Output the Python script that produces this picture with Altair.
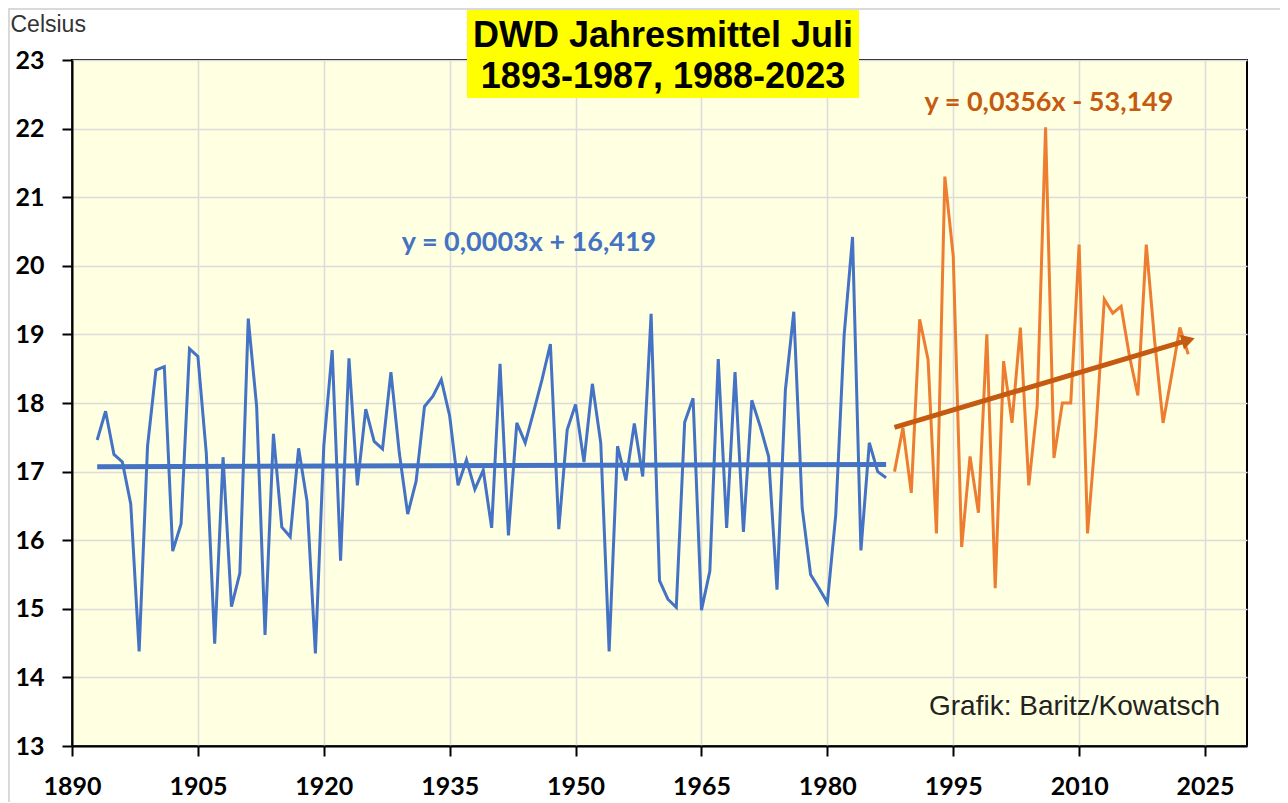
import math
import altair as alt
import numpy as np
import pandas as pd

# ---------------- data ----------------
years_a = list(range(1893, 1988))
temps_a = [
    17.46, 17.88, 17.25, 17.14, 16.53, 14.38, 17.37, 18.48, 18.53, 15.84,
    16.24, 18.79, 18.68, 17.27, 14.49, 17.21, 15.03, 15.52, 19.23, 17.95,
    14.62, 17.55, 16.19, 16.05, 17.34, 16.57, 14.35, 17.37, 18.77, 15.70,
    18.65, 16.80, 17.91, 17.44, 17.33, 18.45, 17.27, 16.38, 16.86, 17.95,
    18.10, 18.34, 17.81, 16.80, 17.17, 16.74, 17.02, 16.18, 18.57, 16.07,
    17.71, 17.42, 17.87, 18.34, 18.86, 16.16, 17.61, 17.98, 17.14, 18.28,
    17.42, 14.38, 17.37, 16.87, 17.70, 16.93, 19.30, 15.41, 15.14, 15.02,
    17.72, 18.07, 14.98, 15.55, 18.64, 16.18, 18.45, 16.12, 18.04, 17.66,
    17.22, 15.28, 18.19, 19.33, 16.47, 15.50, 15.30, 15.09, 16.37, 18.99,
    20.42, 15.85, 17.42, 17.00, 16.91,
]
years_b = list(range(1988, 2024))
temps_b = [
    17.00, 17.64, 16.69, 19.22, 18.63, 16.10, 21.30, 20.14, 15.90, 17.22,
    16.40, 19.00, 15.30, 18.61, 17.71, 19.10, 16.80, 17.95, 22.02, 17.20,
    18.00, 18.00, 20.31, 16.10, 17.60, 19.51, 19.31, 19.41, 18.68, 18.11,
    20.31, 18.90, 17.71, 18.39, 19.10, 18.71,
]

x_ticks = [1890, 1905, 1920, 1935, 1950, 1965, 1980, 1995, 2010, 2025]
y_ticks = list(range(13, 24))

title_lines = ["DWD Jahresmittel Juli", "1893-1987, 1988-2023"]
eq_a = "y = 0,0003x + 16,419"
eq_b = "y = 0,0356x - 53,149"
credit = "Grafik: Baritz/Kowatsch"
y_unit = "Celsius"

df = pd.DataFrame({
    "year": years_a + years_b,
    "temp": temps_a + temps_b,
    "period": ["a"] * len(years_a) + ["b"] * len(years_b),
})

# ---------------- layout ----------------
W, H = 1175, 686
X_MIN, X_MAX = 1890, 2030
Y_MIN, Y_MAX = 13, 23

BLUE = "#4472C4"
ORANGE = "#ED7D31"
DARK_ORANGE = "#C55A11"

x_enc = alt.X("year:Q", scale=alt.Scale(domain=[X_MIN, X_MAX], nice=False, zero=False),
              axis=alt.Axis(values=x_ticks, format="d", title=None, labelPadding=18,
                            labelFlush=False))
y_enc = alt.Y("temp:Q", scale=alt.Scale(domain=[Y_MIN, Y_MAX], nice=False, zero=False),
              axis=alt.Axis(values=y_ticks, format="d", title=y_unit, titleAngle=0,
                            titleX=-62, titleY=-29, titleAlign="left",
                            titleBaseline="alphabetic", titleFont="Liberation Sans",
                            titleFontSize=23, titleFontWeight="normal",
                            titleColor="#333333", labelPadding=18, labelFlush=False))

base = alt.Chart(df)
sel_a = alt.datum.period == "a"
sel_b = alt.datum.period == "b"

line_a = base.transform_filter(sel_a).mark_line(color=BLUE, strokeWidth=3).encode(x=x_enc, y=y_enc)
trend_a = (base.transform_filter(sel_a)
           .transform_regression("year", "temp")
           .mark_line(color=BLUE, strokeWidth=5).encode(x=x_enc, y=y_enc))
line_b = base.transform_filter(sel_b).mark_line(color=ORANGE, strokeWidth=3).encode(x=x_enc, y=y_enc)
trend_b = (base.transform_filter(sel_b)
           .transform_regression("year", "temp")
           .mark_line(color=DARK_ORANGE, strokeWidth=5).encode(x=x_enc, y=y_enc))

# arrow head orientation follows the fitted slope in pixel space
slope_b = np.polyfit(years_b, temps_b, 1)[0]
px_slope = slope_b * (H / (Y_MAX - Y_MIN)) / (W / (X_MAX - X_MIN))
arrow_angle = (360 - math.degrees(math.atan(px_slope))) % 360
arrow = (base.transform_filter(sel_b)
         .transform_regression("year", "temp")
         .transform_filter("datum.year > 2000")
         .mark_point(shape="triangle-right", filled=True, size=240, angle=arrow_angle,
                     color=DARK_ORANGE, opacity=1)
         .encode(x=x_enc, y=y_enc))

one = alt.InlineData(values=[{"k": 0}])


def label(txt, x, y, size, color, font, weight="normal", align="center"):
    return alt.Chart(one).mark_text(
        font=font, fontSize=size, fontWeight=weight, color=color,
        align=align, baseline="middle",
    ).encode(x=alt.value(x), y=alt.value(y), text=alt.value(txt))


title_box = alt.Chart(one).mark_rect(color="#FFFF00").encode(
    x=alt.value(395), x2=alt.value(787), y=alt.value(-50), y2=alt.value(38))
title1 = label(title_lines[0], 591, -24, 36, "black", "Liberation Sans", "bold")
title2 = label(title_lines[1], 591, 17, 36, "black", "Liberation Sans", "bold")
eq_a_txt = label(eq_a, 457, 183, 27, BLUE, "Lato", "bold")
eq_b_txt = label(eq_b, 977, 43, 27, DARK_ORANGE, "Lato", "bold")
credit_txt = label(credit, 1148, 647, 28, "#222222", "Liberation Sans", "normal", "right")

frame_top = alt.Chart(one).mark_rule(color="#D9D9D9", strokeWidth=2).encode(
    x=alt.value(-64), x2=alt.value(W + 40), y=alt.value(-51))
frame_left = alt.Chart(one).mark_rule(color="#D9D9D9", strokeWidth=2).encode(
    x=alt.value(-63), y=alt.value(-52), y2=alt.value(H + 60))

chart = alt.layer(
    line_a, trend_a, line_b, trend_b, arrow,
    title_box, title1, title2, eq_a_txt, eq_b_txt, credit_txt,
    frame_top, frame_left,
).properties(
    width=W, height=H,
    autosize=alt.AutoSizeParams(type="none"),
    padding={"left": 64, "top": 52, "right": 33, "bottom": 56},
    background="white",
).configure_view(
    fill="#FFFFE1", stroke="black", strokeWidth=2,
).configure_axis(
    domainColor="black", domainWidth=2,
    tickColor="black", tickWidth=2, tickSize=10,
    labelFont="Lato", labelFontSize=25, labelFontWeight="bold", labelColor="black",
    gridColor="#DCDCDC", gridWidth=1.5,
)

chart.save("out.html", embed_options={"renderer": "svg", "actions": False})
